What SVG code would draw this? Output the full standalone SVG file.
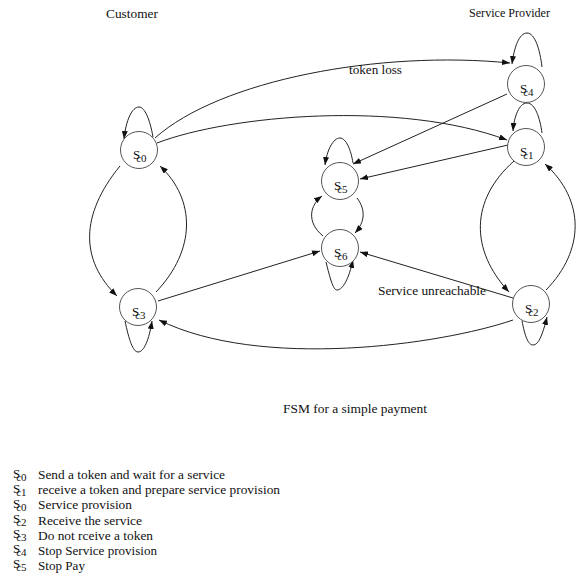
<svg xmlns="http://www.w3.org/2000/svg" width="576" height="578" viewBox="0 0 576 578">
<style>
text{font-family:"Liberation Serif","Times New Roman",serif;fill:#111}
.lbl{font-size:12px}
.st{fill:#fff;stroke:#555;stroke-width:1}
.e{fill:none;stroke:#222;stroke-width:1;marker-end:url(#ah)}
.s{font-size:13px}
.sub{font-size:11px}
</style>
<defs>
<marker id="ah" markerUnits="userSpaceOnUse" markerWidth="9" markerHeight="6" refX="8" refY="3" orient="auto">
<path d="M0,0 L8,3 L0,6 Z" fill="#111"/>
</marker>
</defs>
<rect width="576" height="578" fill="#fff"/>
<text class="lbl" x="106" y="18" textLength="52" lengthAdjust="spacingAndGlyphs">Customer</text>
<text class="lbl" x="469" y="17" textLength="81" lengthAdjust="spacingAndGlyphs">Service Provider</text>
<g id="connectors">
<path class="e" d="M153,137 C150,120 145,107 139,107 C132,107 126,120 124,139"/>
<path class="e" d="M542,67 C540,50 535,33 527,33 C519,33 514,48 512,64"/>
<path class="e" d="M542,133 C540,118 535,103 527,103 C519,103 514,117 513,131"/>
<path class="e" d="M353,163 C351,150 346,138 340,138 C333,138 327,150 325,165"/>
<path class="e" d="M155,138 C220,80 380,50 510,63"/>
<path class="e" d="M157,143 C230,115 400,100 507,140"/>
<path class="e" d="M507,94 L353,164"/>
<path class="e" d="M508,145 L360,179"/>
<path class="e" d="M323,236 C306,222 310,205 322,196"/>
<path class="e" d="M357,198 C366,210 365,222 355,233"/>
<path class="e" d="M326,262 C330,278 333,290 337,290 C343,290 349,278 353,260"/>
<path class="e" d="M158,301 L320,251"/>
<path class="e" d="M513,298 L360,252"/>
<path class="e" d="M513,320 C440,345 260,370 159,320"/>
<path class="e" d="M120,166 C80,215 80,260 117,296"/>
<path class="e" d="M156,292 C196,250 196,200 160,166"/>
<path class="e" d="M125,321 C129,340 133,352 138,352 C144,352 149,340 152,321"/>
<path class="e" d="M514,161 C470,200 470,250 509,292"/>
<path class="e" d="M546,290 C585,250 585,200 545,164"/>
<path class="e" d="M522,321 C525,336 528,345 533,345 C539,345 543,333 547,317"/>
</g>
<text class="lbl" x="349" y="74" textLength="53" lengthAdjust="spacingAndGlyphs">token loss</text>
<text class="lbl" x="378" y="295" textLength="108" lengthAdjust="spacingAndGlyphs">Service unreachable</text>
<g id="Sc0"><circle class="st" cx="139" cy="150" r="18.5"/><text class="s" x="133" y="159">S<tspan class="sub" dx="-4" dy="3">c0</tspan></text></g>
<g id="Sc3"><circle class="st" cx="138" cy="307" r="18.5"/><text class="s" x="132" y="316">S<tspan class="sub" dx="-4" dy="3">c3</tspan></text></g>
<g id="Sc5"><circle class="st" cx="340" cy="181" r="18.5"/><text class="s" x="334" y="190">S<tspan class="sub" dx="-4" dy="3">c5</tspan></text></g>
<g id="Sc6"><circle class="st" cx="340" cy="248" r="18.5"/><text class="s" x="334" y="257">S<tspan class="sub" dx="-4" dy="3">c6</tspan></text></g>
<g id="Sc4"><circle class="st" cx="526" cy="84" r="18.5"/><text class="s" x="520" y="93">S<tspan class="sub" dx="-4" dy="3">c4</tspan></text></g>
<g id="Sc1"><circle class="st" cx="526" cy="147" r="18.5"/><text class="s" x="520" y="156">S<tspan class="sub" dx="-4" dy="3">c1</tspan></text></g>
<g id="Sc2"><circle class="st" cx="531" cy="304" r="18.5"/><text class="s" x="525" y="313">S<tspan class="sub" dx="-4" dy="3">c2</tspan></text></g>
<text class="lbl" x="283" y="413" textLength="144" lengthAdjust="spacingAndGlyphs">FSM for a simple payment</text>
<g id="legend">
<text class="s" x="13" y="478">S<tspan class="sub" dx="-4" dy="3">c0</tspan></text>
<text class="lbl" x="38" y="479" textLength="187" lengthAdjust="spacingAndGlyphs">Send a token and wait for a service</text>
<text class="s" x="13" y="493">S<tspan class="sub" dx="-4" dy="3">c1</tspan></text>
<text class="lbl" x="38" y="494" textLength="242" lengthAdjust="spacingAndGlyphs">receive a token and prepare service provision</text>
<text class="s" x="13" y="508">S<tspan class="sub" dx="-4" dy="3">c0</tspan></text>
<text class="lbl" x="38" y="509" textLength="94" lengthAdjust="spacingAndGlyphs">Service provision</text>
<text class="s" x="13" y="523">S<tspan class="sub" dx="-4" dy="3">c2</tspan></text>
<text class="lbl" x="38" y="525" textLength="104" lengthAdjust="spacingAndGlyphs">Receive the service</text>
<text class="s" x="13" y="538">S<tspan class="sub" dx="-4" dy="3">c3</tspan></text>
<text class="lbl" x="38" y="540" textLength="115" lengthAdjust="spacingAndGlyphs">Do not rceive a token</text>
<text class="s" x="13" y="553">S<tspan class="sub" dx="-4" dy="3">c4</tspan></text>
<text class="lbl" x="38" y="555" textLength="119" lengthAdjust="spacingAndGlyphs">Stop Service provision</text>
<text class="s" x="13" y="568">S<tspan class="sub" dx="-4" dy="3">c5</tspan></text>
<text class="lbl" x="38" y="570" textLength="47" lengthAdjust="spacingAndGlyphs">Stop Pay</text>
</g>
</svg>
